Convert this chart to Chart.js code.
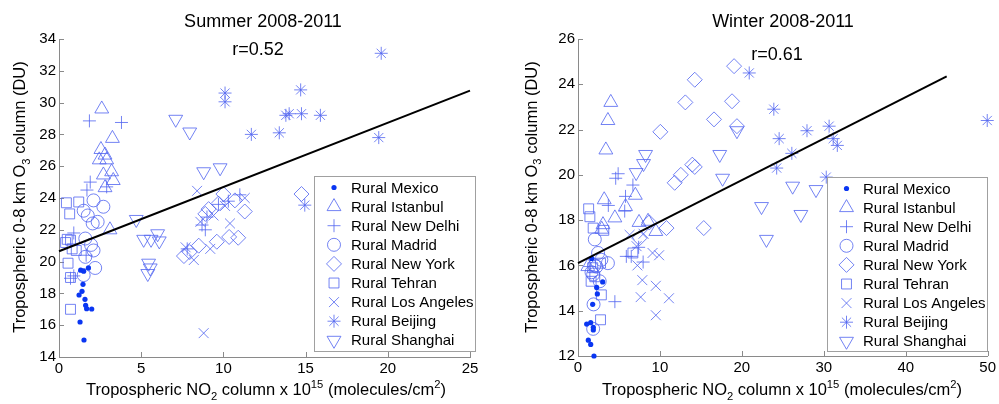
<!DOCTYPE html>
<html lang="en">
<head>
<meta charset="UTF-8">
<title>Tropospheric O3 vs NO2, rural sites</title>
<script src="https://cdn.jsdelivr.net/npm/chart.js"></script>
<style>
  body { margin: 0; background: #fff; width: 999px; height: 404px; overflow: hidden; position: relative; }
  canvas { position: absolute; top: 0; }
  #summerChart { left: 0; }
  #winterChart { left: 500px; }
</style>
</head>
<body>
<canvas id="summerChart" width="500" height="404"></canvas>
<canvas id="winterChart" width="499" height="404"></canvas>
<script>
// series names (legend order)
const seriesNames = ['Rural Mexico', 'Rural Istanbul', 'Rural New Delhi', 'Rural Madrid', 'Rural New York',
                     'Rural Tehran', 'Rural Los Angeles', 'Rural Beijing', 'Rural Shanghai'];

// axis ticks
const summerXTicks = [0, 5, 10, 15, 20, 25];
const summerYTicks = [14, 16, 18, 20, 22, 24, 26, 28, 30, 32, 34];
const winterXTicks = [0, 10, 20, 30, 40, 50];
const winterYTicks = [12, 14, 16, 18, 20, 22, 24, 26];

// summer points: [NO2, O3]
const summerMexico = [[1.32,19.46],[1.50,19.40],[1.79,19.60],[1.46,18.57],[1.40,18.13],[1.22,17.90],[1.58,17.63],
                      [1.62,17.25],[1.68,17.04],[1.99,17.02],[1.28,16.20],[1.52,15.07]];
const summerIstanbul = [[2.6,29.6],[3.25,27.75],[2.55,27.05],[2.8,26.7],[2.45,26.4],[2.9,26.4],[3.2,25.65],
                        [2.7,25.45],[3.3,25.1],[2.8,24.65],[3.1,22.0]];
const summerNewDelhi = [[1.85,28.85],[3.8,28.75],[1.9,25.0],[1.7,24.5],[2.9,24.7],[0.9,21.8],[0.7,18.95],
                        [0.9,19.1],[1.65,20.4],[8.7,22.3],[8.9,22.0],[9.0,22.8],[7.8,20.8],[9.7,23.6],[11.0,24.2],[10.3,23.8]];
const summerMadrid = [[2.1,23.85],[1.5,23.2],[1.75,22.9],[2.7,23.45],[2.05,22.4],[2.35,22.5],[1.6,21.45],
                      [1.95,21.05],[2.1,20.7],[1.6,20.3],[2.2,19.6],[1.5,19.15]];
const summerNewYork = [[7.6,20.35],[7.95,20.6],[8.5,21.0],[8.9,23.0],[9.1,23.3],[9.6,21.25],[9.7,23.65],
                       [10.0,24.25],[10.35,21.55],[10.7,23.85],[10.9,21.5],[11.3,23.15],[14.75,24.25]];
const summerTehran = [[0.45,23.7],[0.65,23.0],[1.2,23.75],[0.5,21.4],[0.7,21.35],[0.8,20.8],[1.05,20.7],
                      [0.55,19.9],[0.7,19.0],[0.7,17.0],[0.4,21.2]];
const summerLosAngeles = [[8.4,24.45],[8.8,15.5],[8.2,20.1],[7.7,20.9],[10.4,22.4],[9.2,20.8],[8.6,22.5],
                          [10.1,23.5],[11.3,24.0],[9.4,22.9]];
const summerBeijing = [[10.1,30.6],[10.1,30.05],[11.7,28.0],[13.4,28.1],[13.8,29.2],[14.0,29.3],[14.7,30.8],
                       [14.75,29.3],[15.9,29.2],[19.6,33.1],[19.45,27.8],[14.95,23.55]];
const summerShanghai = [[7.1,28.95],[7.95,28.15],[8.8,25.65],[9.8,25.9],[4.7,22.65],[5.15,21.4],[5.6,21.4],
                        [6.0,21.75],[6.1,21.3],[5.45,19.9],[5.55,19.6],[5.4,19.25]];
const summerFitX = [0, 25];
const summerFitY = [20.65, 30.75];

// winter points: [NO2, O3]
const winterMexico = [[3.01,15.27],[2.28,15.03],[2.36,14.74],[1.79,14.28],[1.55,13.47],[1.06,13.41],[1.87,13.27],
                      [1.87,13.15],[1.26,12.70],[1.55,12.51],[1.95,12.0],[1.67,16.31]];
const winterIstanbul = [[4.0,23.2],[3.65,22.4],[3.4,21.1],[3.2,18.9],[5.8,18.6],[7.0,19.1],[4.5,18.1],[3.05,17.8],
                        [7.45,17.9],[8.55,17.95],[9.5,17.5],[1.2,15.95],[2.9,17.6]];
const winterNewDelhi = [[4.9,20.05],[4.6,19.85],[6.7,19.55],[5.8,19.05],[5.7,18.4],[3.7,18.65],[5.9,16.4],
                        [6.5,16.4],[7.95,16.15],[4.5,14.4],[1.45,15.95],[7.4,16.8]];
const winterMadrid = [[2.05,17.15],[2.45,16.55],[2.85,16.25],[3.65,16.1],[1.85,15.6],[1.65,15.7],[2.65,15.3],
                      [1.9,14.28],[1.85,13.2],[2.25,15.95],[2.0,16.0]];
const winterNewYork = [[19.05,24.8],[14.25,24.2],[13.1,23.2],[18.8,23.25],[10.05,21.9],[16.6,22.45],[19.4,22.15],
                       [12.55,20.0],[11.8,19.65],[13.95,20.45],[14.25,20.35],[15.35,17.65],[10.8,17.65],[8.7,17.9],[7.5,17.2]];
const winterTehran = [[1.3,18.5],[1.45,18.15],[1.85,17.65],[3.15,17.55],[6.7,16.55],[2.75,16.1],[2.05,15.5],
                      [2.85,14.7],[2.75,13.6],[1.6,15.3],[1.8,15.9]];
const winterLosAngeles = [[6.3,17.35],[7.15,16.85],[7.25,16.0],[7.85,15.35],[7.65,14.6],[9.5,15.1],[11.1,14.55],
                          [9.5,13.8],[9.1,16.55],[9.9,16.45],[8.0,17.4]];
const winterBeijing = [[20.9,24.5],[23.9,22.9],[24.55,21.6],[27.95,21.95],[30.65,22.15],[31.15,21.6],[31.65,21.3],
                       [26.1,20.95],[24.25,20.3],[30.3,19.9],[49.95,22.4]];
const winterShanghai = [[8.25,20.9],[8.0,20.5],[7.1,20.1],[17.3,20.9],[17.65,19.85],[26.2,19.5],[29.05,19.35],
                        [22.4,18.6],[27.2,18.25],[23.0,17.15],[19.4,21.95]];
const winterFitX = [0, 45];
const winterFitY = [16.1, 24.35];

const FONT = '"Liberation Sans", Arial, Helvetica, sans-serif';
const dotBlue = '#0a36f2';
const markBlue = 'rgba(80,100,240,0.8)';

// marker look per series (matlab style)
const markers = [
  { style: 'circle', r: 2.6, fill: true },
  { style: 'triangle', r: 8 },
  { style: 'cross', r: 6.5 },
  { style: 'circle', r: 6.5 },
  { style: 'rectRot', r: 7.5 },
  { style: 'rect', r: 7 },
  { style: 'crossRot', r: 7 },
  { style: 'star', r: 6.5 },
  { style: 'triangle', r: 8, rot: 180 }
];

const xLabelSegs = [['Tropospheric NO', ''], ['2', 'sub'], [' column x 10', ''], ['15', 'sup'],
                    [' (molecules/cm', ''], ['2', 'sup'], [')', '']];
const yLabelSegs = [['Tropospheric 0-8 km O', ''], ['3', 'sub'], [' column (DU)', '']];

function drawRich(ctx, segs, x, y, size, rotate) {
  ctx.save();
  ctx.translate(x, y);
  if (rotate) ctx.rotate(-Math.PI / 2);
  let total = 0;
  const parts = segs.map(s => {
    const fs = s[1] ? size * 0.68 : size;
    ctx.font = fs + 'px ' + FONT;
    const w = ctx.measureText(s[0]).width;
    total += w;
    const dy = s[1] === 'sub' ? size * 0.3 : (s[1] === 'sup' ? -size * 0.45 : 0);
    return { t: s[0], fs, w, dy };
  });
  let cx = -total / 2;
  ctx.fillStyle = '#000';
  ctx.textAlign = 'left';
  ctx.textBaseline = 'alphabetic';
  parts.forEach(p => {
    ctx.font = p.fs + 'px ' + FONT;
    ctx.fillText(p.t, cx, p.dy);
    cx += p.w;
  });
  ctx.restore();
}

function styleCtx(ctx, m) {
  ctx.strokeStyle = m.fill ? dotBlue : markBlue;
  ctx.fillStyle = m.fill ? dotBlue : 'rgba(0,0,0,0)';
  ctx.lineWidth = 1;
}

const decorPlugin = {
  id: 'matlabDecor',
  beforeDatasetsDraw(chart, args, o) {
    // inward tick marks
    const ctx = chart.ctx, a = chart.chartArea;
    ctx.save();
    ctx.strokeStyle = '#8a8a8a';
    ctx.lineWidth = 1;
    ctx.beginPath();
    chart.scales.x.ticks.forEach(t => {
      const px = Math.round(chart.scales.x.getPixelForValue(t.value)) + 0.5;
      ctx.moveTo(px, a.bottom); ctx.lineTo(px, a.bottom - 5);
    });
    chart.scales.y.ticks.forEach(t => {
      const py = Math.round(chart.scales.y.getPixelForValue(t.value)) + 0.5;
      ctx.moveTo(a.left, py); ctx.lineTo(a.left + 5, py);
    });
    ctx.stroke();
    ctx.restore();
  },
  afterDatasetsDraw(chart, args, o) {
    const ctx = chart.ctx, L = o.legend;
    ctx.save();
    ctx.fillStyle = '#fff';
    ctx.fillRect(L.x1, L.y1, L.x2 - L.x1, L.y2 - L.y1);
    ctx.strokeStyle = '#a0a0a0';
    ctx.lineWidth = 1;
    ctx.strokeRect(L.x1 + 0.5, L.y1 + 0.5, L.x2 - L.x1, L.y2 - L.y1);
    seriesNames.forEach((name, i) => {
      const m = markers[i];
      const y = L.rowY + i * L.step;
      styleCtx(ctx, m);
      Chart.helpers.drawPoint(ctx, { pointStyle: m.style, radius: m.r, rotation: m.rot || 0,
                                     borderWidth: m.fill ? 0 : 1 }, L.markX, y);
      ctx.fillStyle = '#000';
      ctx.font = '15px ' + FONT;
      ctx.textAlign = 'left';
      ctx.textBaseline = 'middle';
      ctx.fillText(name, L.textX, y + 1);
    });
    ctx.restore();
  },
  afterDraw(chart, args, o) {
    const ctx = chart.ctx;
    ctx.save();
    ctx.fillStyle = '#000';
    ctx.textAlign = 'center';
    ctx.textBaseline = 'alphabetic';
    ctx.font = '18px ' + FONT;
    ctx.fillText(o.title[0], o.title[1], o.title[2]);
    ctx.fillText(o.rText[0], o.rText[1], o.rText[2]);
    ctx.restore();
    drawRich(ctx, xLabelSegs, o.xLabel[0], o.xLabel[1], 16.5, false);
    drawRich(ctx, yLabelSegs, o.yLabel[0], o.yLabel[1], 16.5, true);
  }
};

function buildDatasets(pointSets, fitX, fitY) {
  const sets = [{
    label: 'fit',
    data: fitX.map((x, i) => ({ x: x, y: fitY[i] })),
    showLine: true,
    borderColor: '#000',
    borderWidth: 2,
    pointRadius: 0,
    order: -1,
    clip: false
  }];
  pointSets.forEach((pts, i) => {
    const m = markers[i];
    sets.push({
      label: seriesNames[i],
      data: pts.map(p => ({ x: p[0], y: p[1] })),
      pointStyle: m.style,
      pointRadius: m.r,
      pointRotation: m.rot || 0,
      pointBorderColor: m.fill ? dotBlue : markBlue,
      pointBackgroundColor: m.fill ? dotBlue : 'rgba(0,0,0,0)',
      pointBorderWidth: m.fill ? 0 : 1,
      showLine: false,
      clip: false,
      order: i
    });
  });
  return sets;
}

function makeChart(id, sets, xTicks, yTicks, box, decor) {
  const axis = (ticks, fit, pad) => ({
    type: 'linear',
    min: ticks[0],
    max: ticks[ticks.length - 1],
    afterBuildTicks: s => { s.ticks = ticks.map(v => ({ value: v })); },
    afterFit: fit,
    grid: { display: false, drawTicks: false },
    border: { display: true, color: '#8a8a8a', width: 1 },
    ticks: { color: '#000', font: { family: FONT, size: 15 }, padding: pad }
  });
  return new Chart(document.getElementById(id), {
    type: 'scatter',
    data: { datasets: sets },
    options: {
      responsive: false,
      animation: false,
      events: [],
      layout: { padding: { left: 0, top: box.top, right: box.right, bottom: 0 } },
      scales: {
        x: axis(xTicks, s => { s.height = box.xh; }, 3),
        y: axis(yTicks, s => { s.width = box.yw; }, 3)
      },
      plugins: {
        legend: { display: false },
        tooltip: { enabled: false },
        matlabDecor: decor
      }
    },
    plugins: [decorPlugin]
  });
}

makeChart('summerChart',
  buildDatasets([summerMexico, summerIstanbul, summerNewDelhi, summerMadrid, summerNewYork,
                 summerTehran, summerLosAngeles, summerBeijing, summerShanghai], summerFitX, summerFitY),
  summerXTicks, summerYTicks,
  { top: 39, right: 30, xh: 47, yw: 59 },
  {
    title: ['Summer 2008-2011', 263, 27],
    rText: ['r=0.52', 258, 55],
    xLabel: [266, 395],
    yLabel: [25, 197],
    legend: { x1: 314, y1: 176, x2: 475, y2: 351, rowY: 187.5, step: 19.1, markX: 334, textX: 351 }
  });

makeChart('winterChart',
  buildDatasets([winterMexico, winterIstanbul, winterNewDelhi, winterMadrid, winterNewYork,
                 winterTehran, winterLosAngeles, winterBeijing, winterShanghai], winterFitX, winterFitY),
  winterXTicks, winterYTicks,
  { top: 39, right: 11, xh: 48, yw: 78 },
  {
    title: ['Winter 2008-2011', 283, 27],
    rText: ['r=0.61', 277, 60],
    xLabel: [282, 395],
    yLabel: [36.5, 197],
    legend: { x1: 327, y1: 177, x2: 487, y2: 351, rowY: 188.5, step: 19.1, markX: 346.5, textX: 363 }
  });
</script>
</body>
</html>
